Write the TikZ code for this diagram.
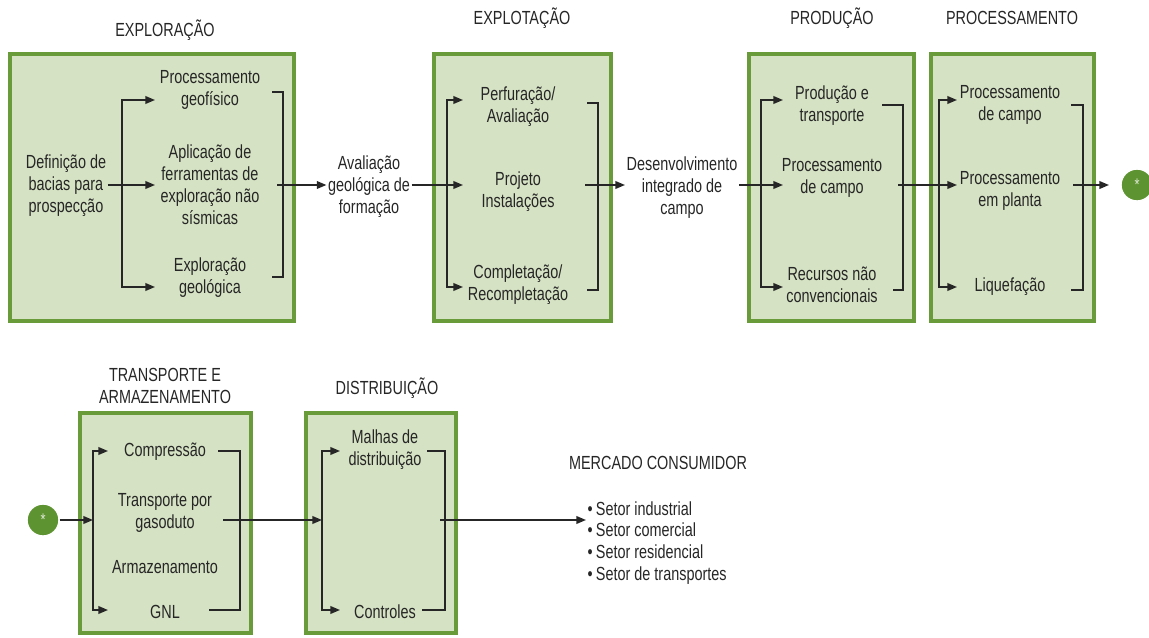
\documentclass[tikz,border=0pt]{standalone}
\usepackage{fontspec}
\setmainfont{Liberation Sans}[FakeStretch=0.76]
\usetikzlibrary{arrows.meta,positioning}
\definecolor{boxfill}{HTML}{D5E2C3}
\definecolor{boxline}{HTML}{6A9B3A}
\definecolor{dotgreen}{HTML}{5E9331}
\definecolor{ink}{HTML}{262626}

\begin{document}
\begin{tikzpicture}[x=0.025cm, y=-0.025cm,
    stage/.style={rectangle, draw=boxline, line width=2.4pt, fill=boxfill, inner sep=0pt},
    txt/.style={align=center, text=ink, font=\fontsize{13.5}{15.6}\selectfont, inner sep=1pt},
    flow/.style={-{Triangle[length=2.4mm,width=1.9mm]}, line width=1.2pt, draw=ink},
    fork/.style={{Triangle[length=2.4mm,width=1.9mm]}-{Triangle[length=2.4mm,width=1.9mm]}, line width=1.2pt, draw=ink},
    rail/.style={line width=1.2pt, draw=ink},
    link/.style={circle, fill=dotgreen, draw=white, line width=1pt, minimum size=0.8cm, text=white!80!dotgreen, font=\large}]
    \useasboundingbox (0,0) rectangle (1149,637);

    % stage boxes
    \node (explor) [stage, minimum width=7.1cm, minimum height=6.67cm] at (152,187.5) {};
    \node (explot) [stage, minimum width=4.42cm, minimum height=6.67cm] at (522.5,187.5) {};
    \node (produc) [stage, minimum width=4.12cm, minimum height=6.67cm] at (831.5,187.5) {};
    \node (proces) [stage, minimum width=4.07cm, minimum height=6.67cm] at (1012.5,187.5) {};
    \node (transp) [stage, minimum width=4.27cm, minimum height=5.5cm] at (165.5,523) {};
    \node (distr) [stage, minimum width=3.75cm, minimum height=5.5cm] at (381,523) {};

    % titles
    \node (t1) [txt] at (165,30) {EXPLORAÇÃO};
    \node (t2) [txt] at (522,18) {EXPLOTAÇÃO};
    \node (t3) [txt] at (832,18) {PRODUÇÃO};
    \node (t4) [txt] at (1012,18) {PROCESSAMENTO};
    \node (t5) [txt] at (165,386) {TRANSPORTE E\\ARMAZENAMENTO};
    \node (t6) [txt] at (387,388) {DISTRIBUIÇÃO};
    \node (t7) [txt] at (658,463) {MERCADO CONSUMIDOR};

    % exploracao
    \node (defin) [txt] at (66,186) {Definição de\\bacias para\\prospecção};
    \node (geof) [txt] at (210,90) {Processamento\\geofísico};
    \node (ferr) [txt] at (210,185) {Aplicação de\\ferramentas de\\exploração não\\sísmicas};
    \node (geol) [txt] at (210,278) {Exploração\\geológica};
    \coordinate (e1t) at (155,100);
    \coordinate (e1m) at (155,185);
    \coordinate (e1b) at (155,287);
    \coordinate (o1) at (277,185);
    \draw[fork] (e1t) -- (122,100) -- (122,287) -- (e1b);
    \draw[flow] (defin.east |- e1m) -- (e1m);
    \draw[rail] (272,92) -- (283,92) -- (283,277) -- (272,277);

    \node (aval) [txt] at (369,187) {Avaliação\\geológica de\\formação};
    \draw[flow] (o1) -- (aval.west |- o1);

    % explotacao
    \node (perf) [txt] at (518,107) {Perfuração/\\Avaliação};
    \node (proj) [txt] at (518,192) {Projeto\\Instalações};
    \node (compl) [txt] at (518,285) {Completação/\\Recompletação};
    \coordinate (e2t) at (463,100);
    \coordinate (e2m) at (463,185);
    \coordinate (e2b) at (463,287);
    \coordinate (o2) at (585,185);
    \draw[fork] (e2t) -- (447,100) -- (447,287) -- (e2b);
    \draw[flow] (aval.east |- e2m) -- (e2m);
    \draw[rail] (587,103) -- (598,103) -- (598,290) -- (587,290);

    \node (desenv) [txt] at (682,188) {Desenvolvimento\\integrado de\\campo};
    \draw[flow] (o2) -- (desenv.west |- o2);

    % producao
    \node (prodt) [txt] at (832,106) {Produção e\\transporte};
    \node (pcamp) [txt] at (832,178) {Processamento\\de campo};
    \node (recur) [txt] at (832,285) {Recursos não\\convencionais};
    \coordinate (e3t) at (783,100);
    \coordinate (e3m) at (783,185);
    \coordinate (e3b) at (783,287);
    \coordinate (o3) at (898,185);
    \draw[fork] (e3t) -- (761,100) -- (761,287) -- (e3b);
    \draw[flow] (desenv.east |- e3m) -- (e3m);
    \draw[rail] (882,105) -- (903,105) -- (903,290) -- (893,290);

    % processamento
    \node (pcamp2) [txt] at (1010,105) {Processamento\\de campo};
    \node (plant) [txt] at (1010,191) {Processamento\\em planta};
    \node (liquef) [txt] at (1010,287) {Liquefação};
    \coordinate (e4t) at (957,100);
    \coordinate (e4m) at (957,185);
    \coordinate (e4b) at (957,287);
    \coordinate (o4) at (1073,185);
    \draw[fork] (e4t) -- (939,100) -- (939,287) -- (e4b);
    \draw[flow] (o3) -- (e4m);
    \draw[rail] (1071,105) -- (1083,105) -- (1083,290) -- (1071,290);

    \node (star1) [link] at (1137,185) {*};
    \draw[flow, shorten >=8pt] (o4) -- (star1.west);

    % transporte e armazenamento
    \node (star2) [link] at (43,520) {*};
    \node (compr) [txt] at (165,452) {Compressão};
    \node (gasod) [txt] at (165,513) {Transporte por\\gasoduto};
    \node (armaz) [txt] at (165,567) {Armazenamento};
    \node (gnl) [txt] at (165,612) {GNL};
    \coordinate (e5t) at (108,451);
    \coordinate (e5m) at (93,520);
    \coordinate (e5b) at (108,610);
    \coordinate (o5) at (223,520);
    \draw[fork] (e5t) -- (93,451) -- (93,610) -- (e5b);
    \draw[flow] (star2.east) -- (e5m);
    \draw[rail] (218,451) -- (240,451) -- (240,610) -- (209,610);

    % distribuicao
    \node (malhas) [txt] at (385,450) {Malhas de\\distribuição};
    \node (contr) [txt] at (385,612) {Controles};
    \coordinate (e6t) at (340,451);
    \coordinate (e6m) at (322,520);
    \coordinate (e6b) at (340,610);
    \coordinate (o6) at (440,520);
    \draw[fork] (e6t) -- (322,451) -- (322,610) -- (e6b);
    \draw[flow] (o5) -- (e6m);
    \draw[rail] (427,451) -- (445,451) -- (445,610) -- (422,610);

    % mercado consumidor
    \node (setores) [txt, align=left, anchor=west] at (586,543) {\textbullet\,Setor industrial\\\textbullet\,Setor comercial\\\textbullet\,Setor residencial\\\textbullet\,Setor de transportes};
    \draw[flow] (o6) -- (setores.west |- o6);
\end{tikzpicture}
\end{document}
